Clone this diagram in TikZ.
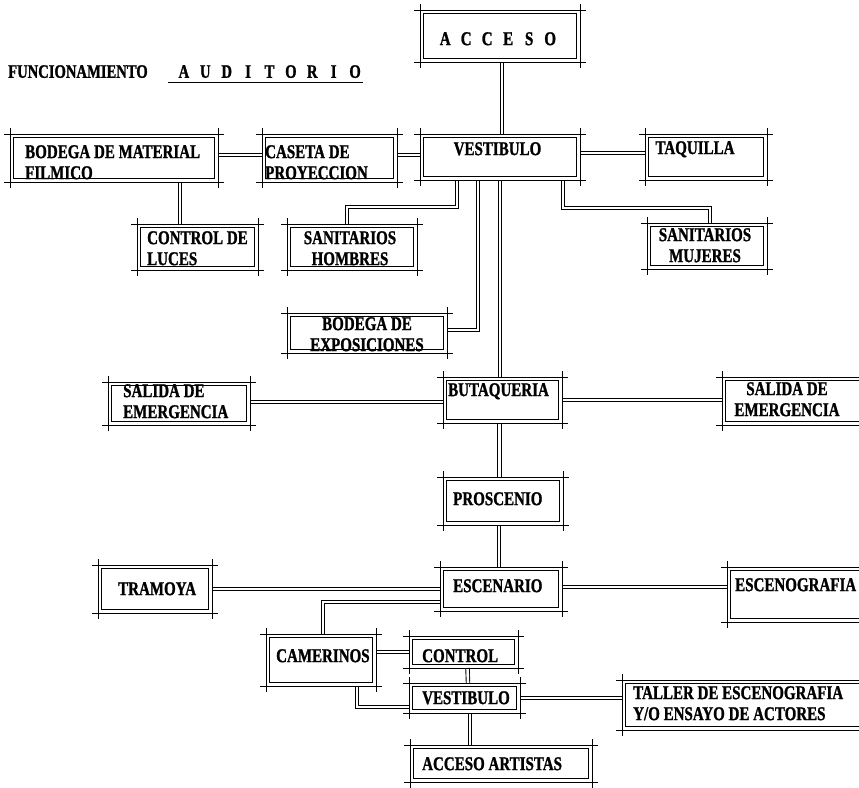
\documentclass[tikz,border=0pt]{standalone}
\usepackage{fontspec}
\newfontfamily\roomfont[FakeStretch=0.77, BoldFeatures={FakeBold=1.2}]{Liberation Serif}
\usetikzlibrary{calc}
\newcommand\pitch[2]{\makebox[#1]{#2}}
\tikzset{
  room/.style={draw, line width=1.6pt, inner sep=0pt, outer sep=3.5pt},
  frameline/.style={line width=0.8pt},
  link/.style={line width=0.9pt, double distance=2.6pt},
  roomtext/.style={font=\roomfont\bfseries\fontsize{19.5}{21}\selectfont, inner sep=0pt, anchor=north west, align=left},
  roomtextc/.style={roomtext, anchor=north, align=center},
  titletext/.style={roomtext, font=\roomfont\bfseries\fontsize{19}{21}\selectfont},
}
\begin{document}
\begin{tikzpicture}[x=1pt,y=-1pt]
\useasboundingbox (0,0) rectangle (859,787);
\clip (0,0) rectangle (859,787);

% rooms (inner heavy outline)
\node[room, minimum width=153pt, minimum height=45pt] (acceso)    at (500,36)    {};
\node[room, minimum width=153pt, minimum height=39pt] (vest)      at (500,157)   {};
\node[room, minimum width=115pt, minimum height=39pt] (taq)       at (706,157)   {};
\node[room, minimum width=201pt, minimum height=41pt] (bodmat)    at (114,158)   {};
\node[room, minimum width=128pt, minimum height=41pt] (caseta)    at (329.5,158) {};
\node[room, minimum width=114pt, minimum height=39pt] (ctrlluces) at (197.5,247) {};
\node[room, minimum width=123pt, minimum height=39pt] (sanh)      at (352,247)   {};
\node[room, minimum width=113pt, minimum height=39pt] (sanm)      at (707,246)   {};
\node[room, minimum width=153pt, minimum height=33pt] (bodexp)    at (367,333)   {};
\node[room, minimum width=135pt, minimum height=36pt] (salL)      at (179,403.5) {};
\node[room, minimum width=112pt, minimum height=39pt] (buta)      at (502.5,400) {};
\node[room, minimum width=171pt, minimum height=41pt] (salR)      at (811,401)   {};
\node[room, minimum width=113pt, minimum height=41pt] (prosc)     at (503,501)   {};
\node[room, minimum width=115pt, minimum height=37pt] (escen)     at (501,589)   {};
\node[room, minimum width=166pt, minimum height=48pt] (escgr)     at (813.5,594.5) {};
\node[room, minimum width=107pt, minimum height=41pt] (tram)      at (155,589)   {};
\node[room, minimum width=103pt, minimum height=45pt] (camer)     at (321,660)   {};
\node[room, minimum width=102pt, minimum height=25pt] (control)   at (463.5,652) {};
\node[room, minimum width=104pt, minimum height=23pt] (vest2)     at (464.5,698) {};
\node[room, minimum width=175pt, minimum height=30pt] (accart)    at (501,763.5) {};
\node[room, minimum width=271pt, minimum height=43pt] (taller)    at (761,705)   {};

% double-line connectors
\draw[link] ([xshift=2pt]acceso.south) -- ([xshift=2pt]vest.north);
\draw[link] ([yshift=3pt]bodmat.east) -- ([yshift=3pt]caseta.west);
\draw[link] ([yshift=3pt]caseta.east) -- ([yshift=2pt]vest.west);
\draw[link] ([yshift=4pt]vest.east) -- ([yshift=4pt]taq.west);
\draw[link] ([xshift=66pt]bodmat.south) -- ([xshift=-17.5pt]ctrlluces.north);
\draw[link] ([xshift=-43pt]vest.south) |- ([xshift=-5pt,yshift=17pt]sanh.north) -- ([xshift=-5pt]sanh.north);
\draw[link] ([xshift=-22pt]vest.south) |- ([yshift=3pt]bodexp.east);
\draw[link] (vest.south) -- (vest.south |- buta.north);
\draw[link] ([xshift=63pt]vest.south) |- ([xshift=3pt,yshift=15pt]sanm.north) -- ([xshift=3pt]sanm.north);
\draw[link] ([yshift=1.5pt]salL.east) -- ([yshift=-2pt]buta.west);
\draw[link] (buta.east) -- ([yshift=1pt]salR.west);
\draw[link] ([xshift=-3pt]buta.south) -- ([xshift=-3.5pt]prosc.north);
\draw[link] ([xshift=-4pt]prosc.south) -- ([xshift=-2pt]escen.north);
\draw[link] (tram.east) -- (escen.west);
\draw[link] ([yshift=2pt]escen.east) -- ([yshift=7.5pt]escgr.west);
\draw[link] ([yshift=-13pt]escen.west) -| ([xshift=2pt]camer.north);
\draw[link] (control.west -| camer.east) -- (control.west);
\draw[link] ([xshift=4pt]control.south) -- ([xshift=3.5pt]vest2.north);
\draw[link] ([xshift=36pt]camer.south) |- ([yshift=-9pt]vest2.west);
\draw[link] (vest2.east) -- ([yshift=7pt]taller.west);
\draw[link] ([xshift=5.5pt]vest2.south) -- ([xshift=-31pt]accart.north);

% outer thin frames with crossing corners
\foreach \n in {acceso,vest,taq,bodmat,caseta,ctrlluces,sanh,sanm,bodexp,salL,buta,salR,prosc,escen,escgr,tram,camer,control,vest2,accart,taller}{
  \draw[frameline]
    ([xshift=-6pt]\n.north west) -- ([xshift=6pt]\n.north east)
    ([xshift=-6pt]\n.south west) -- ([xshift=6pt]\n.south east)
    ([yshift=6pt]\n.north west) -- ([yshift=-6pt]\n.south west)
    ([yshift=6pt]\n.north east) -- ([yshift=-6pt]\n.south east);
}

% title
\node[titletext] (t-func) at (8,65) {FUNCIONAMIENTO};
\node[titletext] (t-aud) at (173,65) {\pitch{21.4pt}{A}\pitch{21.4pt}{U}\pitch{21.4pt}{D}\pitch{21.4pt}{I}\pitch{21.4pt}{T}\pitch{21.4pt}{O}\pitch{21.4pt}{R}\pitch{21.4pt}{I}\pitch{21.4pt}{O}};
\draw[line width=1pt] (168,82) -- (363,82);

% room names
\node[roomtext] (t-acceso) at (434.5,32) {\pitch{21pt}{A}\pitch{21pt}{C}\pitch{21pt}{C}\pitch{21pt}{E}\pitch{21pt}{S}\pitch{21pt}{O}};
\node[roomtextc] (t-vest) at (497.5,142) {VESTIBULO};
\node[roomtextc] (t-taq) at (695,141) {TAQUILLA};
\node[roomtext] (t-bodmat) at (25,145) {BODEGA DE MATERIAL\\FILMICO};
\node[roomtext] (t-caseta) at (265,145) {CASETA DE\\PROYECCION};
\node[roomtext] (t-ctrlluces) at (147,231) {CONTROL DE\\LUCES};
\node[roomtextc] (t-sanh) at (350,231) {SANITARIOS\\HOMBRES};
\node[roomtextc] (t-sanm) at (705,228) {SANITARIOS\\MUJERES};
\node[roomtextc] (t-bodexp) at (367,317) {BODEGA DE\\EXPOSICIONES};
\node[roomtext] (t-salL) at (123,384) {SALIDA DE\\EMERGENCIA};
\node[roomtext] (t-buta) at (448,383) {BUTAQUERIA};
\node[roomtextc] (t-salR) at (787,382) {SALIDA DE\\EMERGENCIA};
\node[roomtext] (t-prosc) at (453,492) {PROSCENIO};
\node[roomtext] (t-escen) at (453,579) {ESCENARIO};
\node[roomtext] (t-escgr) at (735,578) {ESCENOGRAFIA};
\node[roomtext] (t-tram) at (118,582) {TRAMOYA};
\node[roomtext] (t-camer) at (276,649) {CAMERINOS};
\node[roomtext] (t-control) at (422,649) {CONTROL};
\node[roomtext] (t-vest2) at (422,691) {VESTIBULO};
\node[roomtext] (t-accart) at (422,757) {ACCESO ARTISTAS};
\node[roomtext] (t-taller) at (633,686) {TALLER DE ESCENOGRAFIA\\Y/O ENSAYO DE ACTORES};
\end{tikzpicture}
\end{document}
